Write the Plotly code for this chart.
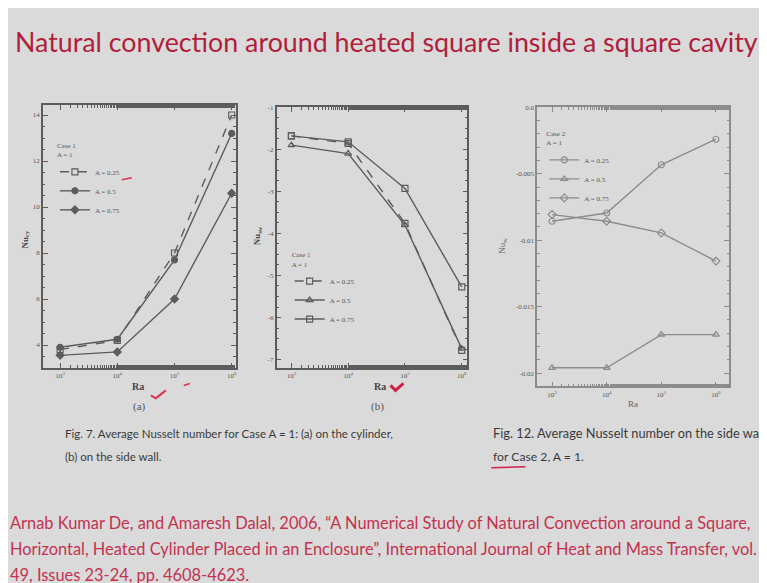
import plotly.graph_objects as go

W, H = 767, 583
OFF = 8  # page margin of the html body; measured positions are screenshot positions


def px(x):
    return (x - OFF) / W


def py(y):
    return 1 - (y - OFF) / H


# ---------------- data ----------------
ra = [1e3, 1e4, 1e5, 1e6]
ra_ticktext = ["10<sup>3</sup>", "10<sup>4</sup>", "10<sup>5</sup>", "10<sup>6</sup>"]
series_names = ["A = 0.25", "A = 0.5", "A = 0.75"]

# Fig. 7(a): average Nusselt number on the cylinder, Case 1
nu_cyl_025 = [3.8, 4.2, 8.0, 14.0]
nu_cyl_050 = [3.9, 4.25, 7.7, 13.2]
nu_cyl_075 = [3.55, 3.7, 6.0, 10.6]

# Fig. 7(b): average Nusselt number on the side wall, Case 1
nu_wall_025 = [-1.68, -1.86, -3.76, -6.78]
nu_wall_050 = [-1.90, -2.10, -3.80, -6.74]
nu_wall_075 = [-1.68, -1.82, -2.93, -5.27]

# Fig. 12: average Nusselt number on the side wall, Case 2
nu_c2_025 = [-0.00857, -0.00795, -0.00432, -0.0024]
nu_c2_050 = [-0.0196, -0.0196, -0.0171, -0.0171]
nu_c2_075 = [-0.00807, -0.00857, -0.00945, -0.01157]

ticks_a = [4, 6, 8, 10, 12, 14]
ticks_b = [-1, -2, -3, -4, -5, -6, -7]
ticks_c = [0, -0.005, -0.01, -0.015, -0.02]
ticks_c_text = ["0.0", "-0.005", "-0.01", "-0.015", "-0.02"]

# ---------------- style ----------------
BG = "#dadada"
DARK = "#5c5c5c"
LIGHT = "#8c8c8c"
SERIF = "Liberation Serif, DejaVu Serif, serif"
SANS = "Lato, sans-serif"

fig = go.Figure()


def add_series(xa, ya, legend, yvals_list, color, styles):
    for name, yv, (dash, sym) in zip(series_names, yvals_list, styles):
        fig.add_trace(go.Scatter(
            x=ra, y=yv, name=name, mode="lines+markers",
            xaxis=xa, yaxis=ya, legend=legend,
            line=dict(color=color, width=1.4, dash=dash),
            marker=dict(symbol=sym, size=6, color=color,
                        line=dict(color=color, width=1.2)),
        ))


add_series("x", "y", "legend", [nu_cyl_025, nu_cyl_050, nu_cyl_075], DARK,
           [("dash", "square-open"), ("solid", "circle"), ("solid", "diamond")])
add_series("x2", "y2", "legend2", [nu_wall_025, nu_wall_050, nu_wall_075], DARK,
           [("dash", "square-open"), ("solid", "triangle-up-open"), ("solid", "square-open")])
add_series("x3", "y3", "legend3", [nu_c2_025, nu_c2_050, nu_c2_075], LIGHT,
           [("solid", "circle-open"), ("solid", "triangle-up-open"), ("solid", "diamond-open")])


def xaxis(dom, rng, anchor, color):
    return dict(
        domain=dom, type="log", range=rng, anchor=anchor,
        tickvals=ra, ticktext=ra_ticktext,
        showline=True, mirror="ticks", linecolor=color, linewidth=1.6,
        ticks="inside", ticklen=5, tickcolor=color,
        minor=dict(ticks="inside", ticklen=2.5, tickcolor=color),
        showgrid=False, zeroline=False,
        tickfont=dict(family=SERIF, size=7, color="#555"),
    )


def yaxis(dom, rng, anchor, color, tv, tt=None, minor_dt=None):
    d = dict(
        domain=dom, range=rng, anchor=anchor,
        tickvals=tv, ticktext=tt if tt else [str(v) for v in tv],
        showline=True, mirror="ticks", linecolor=color, linewidth=1.6,
        ticks="inside", ticklen=5, tickcolor=color,
        showgrid=False, zeroline=False,
        tickfont=dict(family=SERIF, size=7, color="#555"),
    )
    if minor_dt:
        d["minor"] = dict(ticks="inside", ticklen=2.5, tickcolor=color, dtick=minor_dt,
                          tick0=0, showgrid=False)
    return d


leg_common = dict(
    bgcolor="rgba(0,0,0,0)", borderwidth=0, xanchor="left", yanchor="top",
    font=dict(family=SERIF, size=7, color="#555"), itemwidth=30,
    tracegroupgap=0,
)

fig.update_layout(
    width=W, height=H,
    margin=dict(l=0, r=0, t=0, b=0),
    paper_bgcolor=BG, plot_bgcolor="rgba(0,0,0,0)",
    xaxis=xaxis([px(43), px(236)], [2.70, 6.07], "y", DARK),
    yaxis=yaxis([py(366), py(102)], [3.02, 14.42], "x", DARK, ticks_a, minor_dt=0.5),
    xaxis2=xaxis([px(277), px(468)], [2.74, 6.10], "y2", DARK),
    yaxis2=yaxis([py(366), py(104)], [-7.19, -1.0], "x2", DARK, ticks_b, minor_dt=0.25),
    xaxis3=xaxis([px(538), px(730)], [2.73, 6.24], "y3", LIGHT),
    yaxis3=yaxis([py(385), py(104)], [-0.0210, 0.0], "x3", LIGHT, ticks_c, ticks_c_text,
                 minor_dt=0.001),
    legend=dict(x=px(55), y=py(136), title=dict(text="Case 1<br>A = 1", font=dict(size=7)),
                **leg_common),
    legend2=dict(x=px(290), y=py(246), title=dict(text="Case 1<br>A = 1", font=dict(size=7)),
                 **leg_common),
    legend3=dict(x=px(545), y=py(124), title=dict(text="Case 2<br>A = 1", font=dict(size=7)),
                 **leg_common),
    showlegend=True,
)

ann = []


def text(x, y, s, size, color, family=SANS, xanchor="left", textangle=0):
    ann.append(dict(x=px(x), y=py(y), xref="paper", yref="paper", text=s,
                    showarrow=False, xanchor=xanchor, yanchor="middle",
                    textangle=textangle,
                    font=dict(size=size, color=color, family=family)))


TITLE_RED = "#b01e3c"
REF_RED = "#c3324f"
CAP = "#3a3a3a"

text(13, 38, "Natural convection around heated square inside a square cavity", 26.8, TITLE_RED)

# axis labels
text(138, 385, "<b>Ra</b>", 10, "#444", SERIF, "center")
text(140, 405, "(a)", 11, "#555", SERIF, "center")
text(380, 385, "<b>Ra</b>", 10, "#444", SERIF, "center")
text(378, 405, "(b)", 11, "#555", SERIF, "center")
text(634, 403, "Ra", 9, "#666", SERIF, "center")
text(25, 237, "<b>Nu<sub>cy</sub></b>", 9, "#444", SERIF, "center", -90)
text(258, 233, "<b>Nu<sub>sw</sub></b>", 9, "#444", SERIF, "center", -90)
text(503, 243, "Nu<sub>w</sub>", 9, "#666", SERIF, "center", -90)

# captions
text(63, 432, "Fig. 7. Average Nusselt number for Case A = 1: (a) on the cylinder,", 11.5, CAP)
text(63, 456, "(b) on the side wall.", 11.5, CAP)
text(492, 432, "Fig. 12. Average Nusselt number on the side wall", 12.8, CAP)
text(492, 456, "for Case 2, A = 1.", 12.2, CAP)

# reference
text(8, 522, "Arnab Kumar De, and Amaresh Dalal, 2006, \u201cA Numerical Study of Natural Convection around a Square,", 16.4, REF_RED)
text(8, 548, "Horizontal, Heated Cylinder Placed in an Enclosure\u201d, International Journal of Heat and Mass Transfer, vol.", 16.4, REF_RED)
text(8, 574, "49, Issues 23-24, pp. 4608-4623.", 16.4, REF_RED)

fig.update_layout(annotations=ann)


def pth(points):
    return "M " + " L ".join(f"{px(x)} {py(y)}" for x, y in points)


shapes = [
    # handwritten red marks on the slide
    dict(type="path", xref="paper", yref="paper", path=pth([(151, 394), (156, 397), (166, 389)]),
         line=dict(color="#e0304f", width=2)),
    dict(type="path", xref="paper", yref="paper", path=pth([(184, 384), (190, 382)]),
         line=dict(color="#e0304f", width=1.5)),
    dict(type="path", xref="paper", yref="paper", path=pth([(391, 384), (396, 389), (404, 382)]),
         line=dict(color="#d0204a", width=3)),
    dict(type="path", xref="paper", yref="paper", path=pth([(122, 177), (132, 175)]),
         line=dict(color="#e0304f", width=1.5)),
    dict(type="path", xref="paper", yref="paper", path=pth([(492, 467), (526, 466)]),
         line=dict(color="#d0204a", width=1.5)),
]
fig.update_layout(shapes=shapes)

fig.write_html("out.html")
